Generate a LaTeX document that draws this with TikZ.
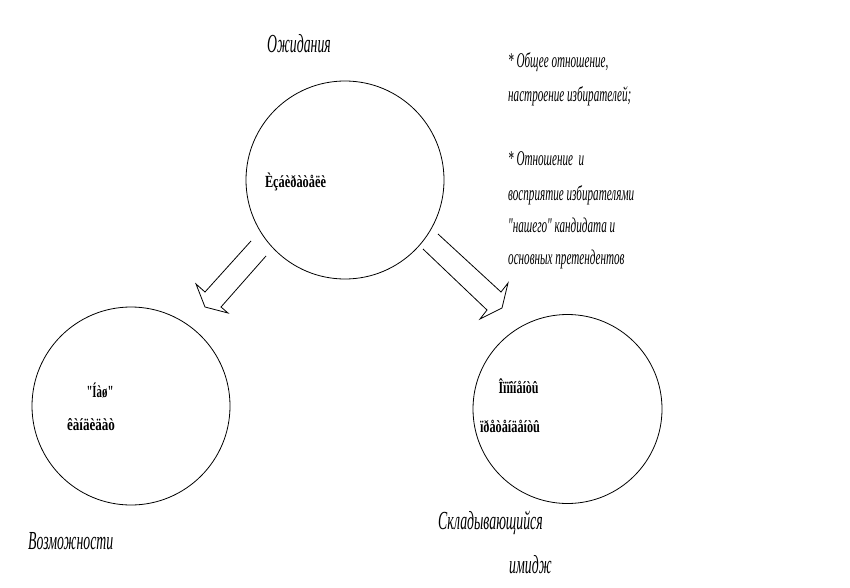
\documentclass[tikz,border=0pt]{standalone}
\usepackage{graphicx}
\usepackage{fontspec}
\setmainfont{Liberation Serif}
\newfontfamily\condit{Liberation Serif}[FakeStretch=0.53]
\newfontfamily\garbfont{Liberation Serif}
\newcommand\garbtext[2]{\resizebox{#1}{\height}{\garbfont\bfseries\fontsize{17}{20}\selectfont #2}}
\begin{document}
\begin{tikzpicture}[x=1pt,y=-1pt,
  ring/.style={circle,draw,line width=0.8pt,inner sep=0pt,fill=white},
  blockarrow/.style={draw,line width=0.8pt,line join=miter},
  biglabel/.style={inner sep=0pt,anchor=base west,font=\condit\itshape\fontsize{26}{30}\selectfont},
  note/.style={inner sep=0pt,anchor=base west,font=\condit\itshape\fontsize{21}{24}\selectfont},
  garbled/.style={inner sep=0pt,anchor=base}]
\useasboundingbox (0,0) rectangle (850,588);
\fill[white] (0,0) rectangle (850,588);

% circles
\node[ring,minimum size=198pt] (top) at (345,180) {};
\node[ring,minimum size=198pt] (left) at (131,406) {};
\node[ring,minimum size=189pt] (right) at (567.5,409) {};

% block arrows (open at the back end)
\coordinate (la1) at (251,241);
\coordinate (la2) at (205,292);
\coordinate (la3) at (196,284);
\coordinate (la4) at (205,307);
\coordinate (la5) at (228,313);
\coordinate (la6) at (221,307);
\coordinate (la7) at (266,256);
\draw[blockarrow] (la1) -- (la2) -- (la3) -- (la4) -- (la5) -- (la6) -- (la7);

\coordinate (ra1) at (438,234);
\coordinate (ra2) at (501,292);
\coordinate (ra3) at (508,283);
\coordinate (ra4) at (502,308);
\coordinate (ra5) at (480,319);
\coordinate (ra6) at (487,310);
\coordinate (ra7) at (423,249);
\draw[blockarrow] (ra1) -- (ra2) -- (ra3) -- (ra4) -- (ra5) -- (ra6) -- (ra7);

% text inside circles
\node[garbled] (t1) at (295.5,187) {\garbtext{61pt}{Èçáèðàòåëè}};
\node[garbled] (l1) at (100,397) {\garbtext{27pt}{"Íàø"}};
\node[garbled] (l2) at (91,430) {\garbtext{48pt}{êàíäèäàò}};
\node[garbled] (r1) at (518.5,393) {\garbtext{40pt}{Îïïîíåíòû}};
\node[garbled] (r2) at (510,432) {\garbtext{60pt}{ïðåòåíäåíòû}};

% labels
\node[biglabel] (exp) at (267,53) {Ожидания};
\node[biglabel] (opp) at (28,549) {Возможности};
\node[biglabel] (img1) at (438,529) {Складывающийся};
\node[biglabel] (img2) at (509,573) {имидж};

% notes
\node[note] (n1) at (508,68) {* Общее отношение,};
\node[note] (n2) at (508,102) {настроение избирателей;};
\node[note] (n3) at (508,165) {* Отношение \ и};
\node[note] (n4) at (508,200) {восприятие избирателями};
\node[note] (n5) at (508,232) {"нашего" кандидата и};
\node[note] (n6) at (508,264) {основных претендентов};
\end{tikzpicture}
\end{document}
